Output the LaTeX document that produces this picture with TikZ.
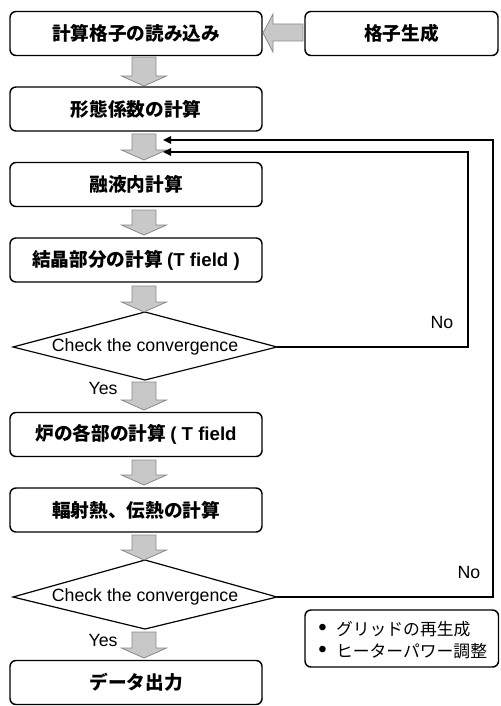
\documentclass[tikz,border=0pt]{standalone}
\usepackage{fontspec}
\setmainfont{Liberation Sans}
\newfontfamily\jp{Noto Sans CJK JP}
\newfontfamily\ar{Liberation Sans}
\usetikzlibrary{arrows.meta}
\definecolor{arrfill}{HTML}{C8C8C8}
\definecolor{arrdraw}{HTML}{8A8A8A}
\tikzset{
  procbox/.style={draw=black, line width=1.1pt, rounded corners=4.5pt, fill=white,
    minimum width=189pt, minimum height=33pt, inner sep=0pt,
    font=\fontsize{14}{16}\selectfont\jp\bfseries},
  sidebox/.style={procbox, minimum width=144.75pt},
  decision/.style={draw=black, line width=0.9pt, fill=white},
  dtext/.style={font=\fontsize{13.3}{16}\selectfont\ar},
  yn/.style={font=\fontsize{13.3}{16}\selectfont\ar},
  blockarr/.style={fill=arrfill, draw=arrdraw, line width=0.6pt},
  fb/.style={draw=black, line width=1.3pt, -{Triangle[length=6pt,width=5.5pt]}},
  notebox/.style={draw=black, line width=1.1pt, rounded corners=4.5pt, fill=white},
  notetext/.style={anchor=west, inner sep=0pt, font=\fontsize{12.6}{16}\selectfont}
}
% vertical block arrow: #1 top y, #2 tip y (px units)
\newcommand\garrow[2]{%
  \path[blockarr] (132,#1) -- (156,#1) -- (156,#2-10) -- (166.5,#2-10) -- (144,#2)
    -- (121.5,#2-10) -- (132,#2-10) -- cycle;}
\begin{document}
\begin{tikzpicture}[x=0.75pt,y=-0.75pt]
\useasboundingbox (0,0) rectangle (500,706);
\fill[white] (0,0) rectangle (500,706);

% process boxes
\node[procbox] (b1) at (136,33.5) {計算格子の読み込み};
\node[sidebox] (g) at (401.5,33.5) {格子生成};
\node[procbox] (b2) at (136,109) {形態係数の計算};
\node[procbox] (b3) at (136,184.5) {融液内計算};
\node[procbox] (b4) at (136,260) {結晶部分の計算 {\ar\bfseries (T field )}};
\node[procbox] (b5) at (136,434.5) {炉の各部の計算 {\ar\bfseries ( T field}};
\node[procbox] (b6) at (136,510) {輻射熱、伝熱の計算};
\node[procbox] (b7) at (136,682.5) {データ出力};

% decisions
\draw[decision] (13,347) -- (145,312) -- (277,347) -- (145,380) -- cycle;
\coordinate (d1e) at (277,347);
\node[dtext] (d1) at (145,347) {Check the convergence};
\draw[decision] (13,597) -- (145,560) -- (277,597) -- (145,629) -- cycle;
\coordinate (d2e) at (277,597);
\node[dtext] (d2) at (145,597) {Check the convergence};

% block arrows
\path[blockarr] (303,24) -- (303,41) -- (273,41) -- (273,52) -- (263,33) -- (273,14) -- (273,24) -- cycle;
\garrow{57}{86}
\garrow{134}{160}
\garrow{210}{235}
\garrow{286}{312}
\garrow{382}{410}
\garrow{460}{485}
\garrow{535}{560}
\garrow{632}{658}

% feedback loops
\coordinate (t1) at (163,152);
\coordinate (c1) at (468,152);
\coordinate (t2) at (163,140);
\coordinate (c2) at (493,140);
\draw[fb] (d1e) -| (c1) -- (t1);
\draw[fb] (d2e) -| (c2) -- (t2);

% labels
\node[yn] (no1) at (442,322) {No};
\node[yn] (no2) at (469,572) {No};
\node[yn] (yes1) at (103,388) {Yes};
\node[yn] (yes2) at (103,640) {Yes};

% note box
\draw[notebox] (305,610) rectangle (498.5,667);
\node[notetext] (n1) at (318,629)
  {{\ar\fontsize{18}{16}\selectfont •}\hspace{7pt}{\jp グリッドの再生成}};
\node[notetext] (n2) at (318,651)
  {{\ar\fontsize{18}{16}\selectfont •}\hspace{7pt}{\jp ヒーターパワー調整}};
\end{tikzpicture}
\end{document}
